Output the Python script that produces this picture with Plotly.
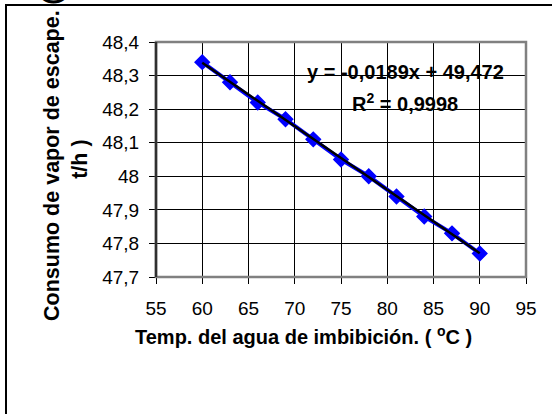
import plotly.graph_objects as go

# ---- data ----
temp = [60, 63, 66, 69, 72, 75, 78, 81, 84, 87, 90]
steam = [48.34, 48.28, 48.22, 48.17, 48.11, 48.05, 48.00, 47.94, 47.88, 47.83, 47.77]
slope = -0.0189
intercept = 49.472
x_ticks = [55, 60, 65, 70, 75, 80, 85, 90, 95]
x_ticktext = ["55", "60", "65", "70", "75", "80", "85", "90", "95"]
y_ticks = [47.7, 47.8, 47.9, 48.0, 48.1, 48.2, 48.3, 48.4]
y_ticktext = ["47,7", "47,8", "47,9", "48", "48,1", "48,2", "48,3", "48,4"]
eq_text = "y = -0,0189x + 49,472"
r2_text = "R<sup>2</sup> = 0,9998"
x_title = "Temp. del agua de imbibición. ( <sup>o</sup>C )"
y_title = "Consumo de vapor de escape. (<br>t/h )"

FONT = "Arial, 'Liberation Sans', sans-serif"
W, H = 552, 414
L, R, T, B = 156, 26, 42, 137
PW, PH = W - L - R, H - T - B


def px(xp):
    return (xp - L) / PW


def py(yp):
    return (H - B - yp) / PH


trend_x = [min(temp), max(temp)]
trend_y = [slope * v + intercept for v in trend_x]

fig = go.Figure()
fig.add_trace(go.Scatter(
    x=temp, y=steam, mode="lines+markers",
    line=dict(color="#0000FF", width=4),
    marker=dict(symbol="diamond", size=11, color="#0000FF",
                line=dict(color="#0000FF", width=1.5)),
    showlegend=False, hoverinfo="skip"))
fig.add_trace(go.Scatter(
    x=trend_x, y=trend_y, mode="lines",
    line=dict(color="#000000", width=2.5),
    showlegend=False, hoverinfo="skip"))

axis_common = dict(
    showgrid=True, gridcolor="#000000", gridwidth=1,
    zeroline=False, ticks="outside", ticklen=6, tickcolor="#000000",
    tickwidth=1, tickfont=dict(family=FONT, size=19, color="#000000"),
    showline=False,
)

fig.update_xaxes(range=[55, 95], tickvals=x_ticks, ticktext=x_ticktext,
                 ticklabelstandoff=8, **axis_common)
fig.update_yaxes(range=[47.7, 48.4], tickvals=y_ticks, ticktext=y_ticktext,
                 ticklabelstandoff=6, **axis_common)

shapes = [
    # outer chart frame (extends beyond the visible page)
    dict(type="rect", xref="paper", yref="paper",
         x0=px(6), y0=-2, x1=3, y1=py(5),
         line=dict(color="#000000", width=2), layer="above"),
    # plot area border
    dict(type="rect", xref="paper", yref="paper", x0=0, y0=0, x1=1, y1=1,
         line=dict(color="#808080", width=2.5), layer="above"),
    # left axis line
    dict(type="line", xref="paper", yref="paper", x0=0, y0=0, x1=0, y1=1,
         line=dict(color="#303030", width=2.5), layer="above"),
]

annotations = [
    dict(text=eq_text, xref="paper", yref="paper", x=px(405), y=py(72),
         xanchor="center", yanchor="middle", showarrow=False,
         font=dict(family=FONT, size=20, color="#000000", weight="bold")),
    dict(text=r2_text, xref="paper", yref="paper", x=px(405), y=py(102),
         xanchor="center", yanchor="middle", showarrow=False,
         font=dict(family=FONT, size=20, color="#000000", weight="bold")),
    dict(text=x_title, xref="paper", yref="paper", x=px(303), y=py(335),
         xanchor="center", yanchor="middle", showarrow=False,
         font=dict(family=FONT, size=20, color="#000000", weight="bold")),
    dict(text=y_title, xref="paper", yref="paper", x=px(66), y=py(159),
         xanchor="center", yanchor="middle", showarrow=False, textangle=-90,
         font=dict(family=FONT, size=21.5, color="#000000", weight="bold")),
]

fig.update_layout(
    width=W, height=H,
    margin=dict(l=L, r=R, t=T, b=B, autoexpand=False),
    paper_bgcolor="#FFFFFF", plot_bgcolor="#FFFFFF",
    font=dict(family=FONT, color="#000000"),
    shapes=shapes, annotations=annotations,
)

fig.write_html("out.html")
